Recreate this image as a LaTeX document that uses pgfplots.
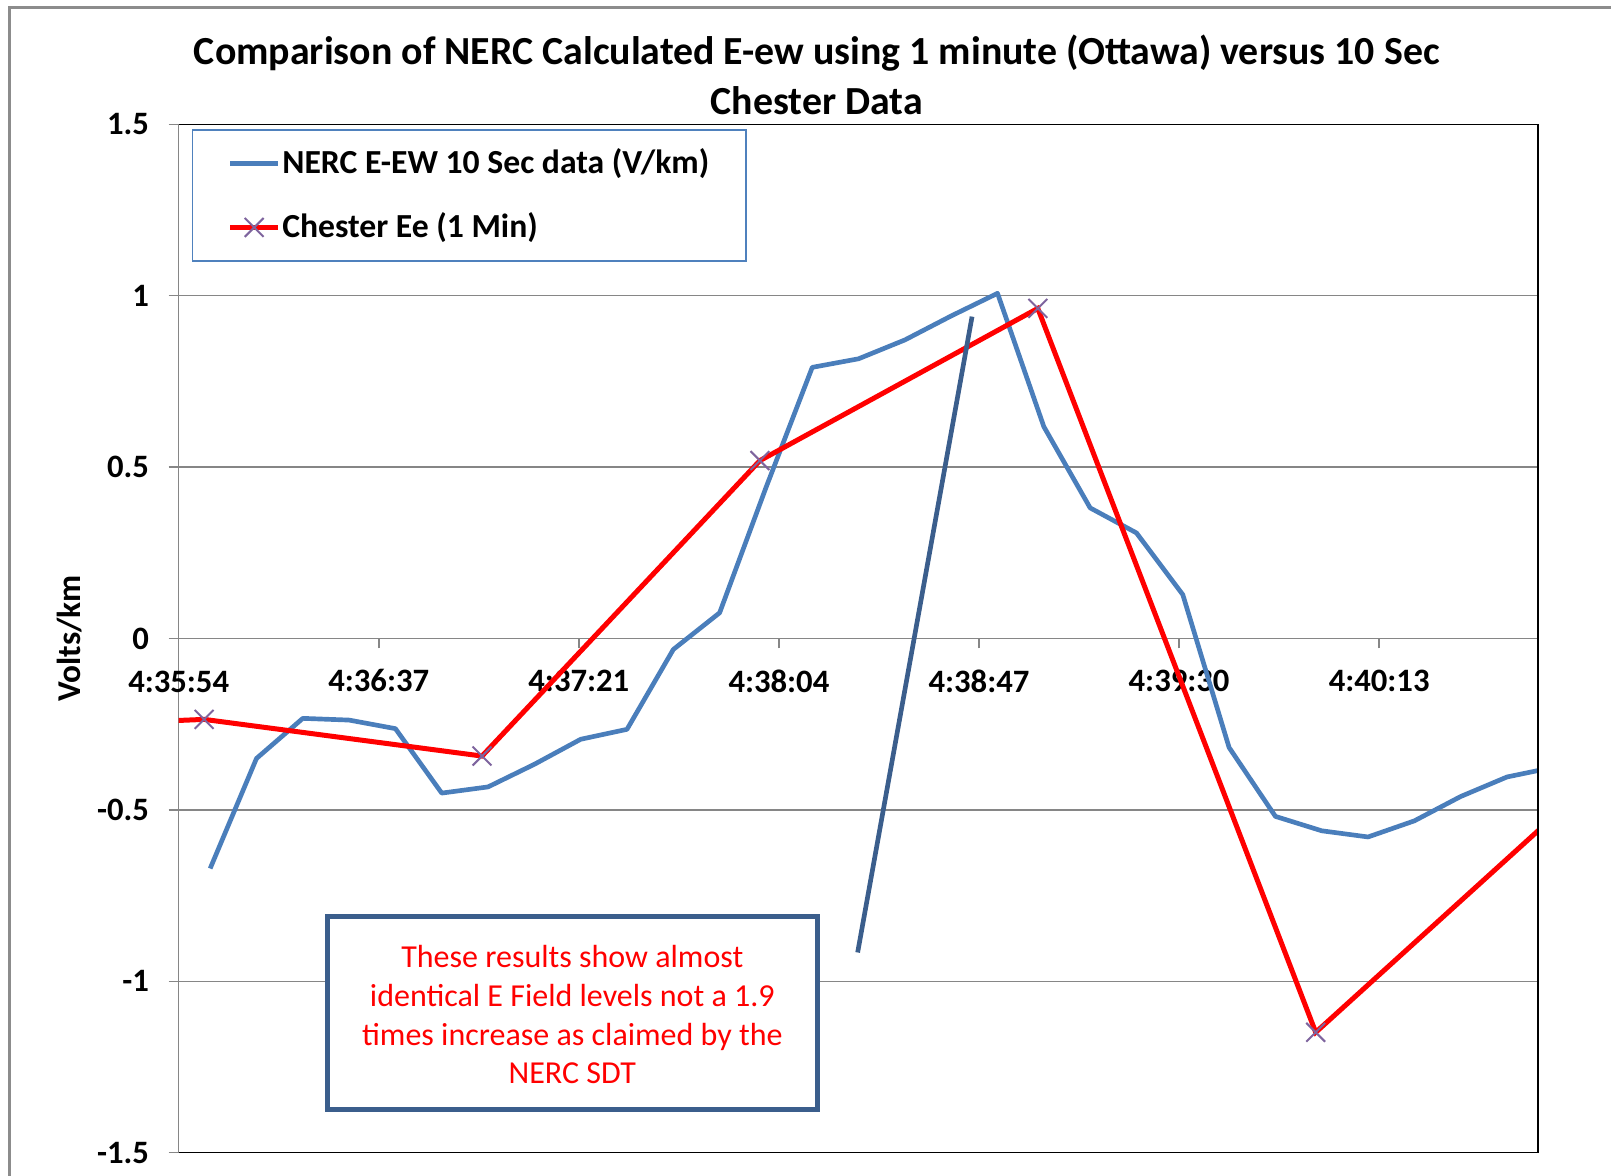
\documentclass[border=0pt]{standalone}
\usepackage{fontspec}
\setmainfont{Carlito}
\usepackage{pgfplots}
\pgfplotsset{compat=1.18}
\usetikzlibrary{calc}
\definecolor{eblue}{HTML}{4A7EBB}
\definecolor{chred}{HTML}{FF0000}
\definecolor{xpurple}{HTML}{7E649E}
\definecolor{boxblue}{HTML}{3B5E8C}
\definecolor{gridgray}{HTML}{868686}
\definecolor{framegray}{HTML}{8C8C8C}
\definecolor{legblue}{HTML}{4F81BD}

\begin{document}
\begin{tikzpicture}
\begin{axis}[
  name=A,
  scale only axis, width=407.8pt, height=308.5pt,
  xmin=0, xmax=293.5, ymin=-1.5, ymax=1.5,
  axis x line*=middle, axis y line*=left,
  axis line style={gridgray, line width=0.45pt},
  tick align=outside, major tick length=3pt,
  tick style={gridgray, line width=0.45pt},
  ymajorgrids, grid style={gridgray, line width=0.45pt},
  xtick={0,43.2,86.4,129.6,172.8,216,259.2},
  xticklabels={4:35:54,4:36:37,4:37:21,4:38:04,4:38:47,4:39:30,4:40:13},
  ytick={-1.5,-1,-0.5,0,0.5,1,1.5},
  yticklabels={-1.5,-1,-0.5,0,0.5,1,1.5},
  ticklabel style={font=\fontsize{9.8}{11}\selectfont\bfseries},
  xticklabel style={yshift=-2.8pt},
  yticklabel style={xshift=-2.4pt},
  legend style={at={(0.0098,0.995)}, anchor=north west, draw=legblue,
    line width=0.4pt, font=\fontsize{10.1}{12}\selectfont\bfseries,
    inner xsep=10.5pt, inner ysep=3.6pt, row sep=6.1pt,
    nodes={inner xsep=0.5pt}},
  legend cell align=left,
  legend image code/.code={\draw[mark repeat=2,mark phase=2,#1]
    plot coordinates {(0pt,0pt) (7.2pt,0pt) (14.4pt,0pt)};},
]
\addplot[eblue, line width=1.4pt, line join=round, no markers] coordinates {
  (6.8,-0.671)(16.8,-0.350)(26.8,-0.233)(36.8,-0.238)(46.8,-0.263)
  (56.8,-0.451)(66.8,-0.433)(76.8,-0.367)(86.8,-0.294)(96.8,-0.265)
  (106.8,-0.032)(116.8,0.075)(126.8,0.440)(136.8,0.791)(146.8,0.816)
  (156.8,0.871)(166.8,0.941)(176.8,1.007)(186.8,0.618)(196.8,0.381)
  (206.8,0.308)(216.8,0.128)(226.8,-0.318)(236.8,-0.519)(246.8,-0.561)
  (256.8,-0.579)(266.8,-0.532)(276.8,-0.461)(286.8,-0.404)(296.8,-0.376)};
\addlegendentry{NERC E-EW 10 Sec data (V/km)}
\addplot[chred, line width=1.5pt, mark=x, mark size=4pt,
  mark options={xpurple, line width=0.6pt, solid}] coordinates {
  (-54.5,-0.270)(5.5,-0.236)(65.5,-0.343)(125.5,0.519)(185.5,0.963)
  (245.5,-1.149)(305.5,-0.414)};
\addlegendentry{Chester Ee (1 Min)}

% annotation
\draw[boxblue, line width=1.4pt] (axis cs:171.3,0.939) -- (axis cs:146.6,-0.916);
\draw[boxblue, line width=1.5pt, fill=white] (axis cs:32.1,-0.811) rectangle (axis cs:137.9,-1.374);
\node[align=center, text=chred, font=\fontsize{9.6}{11.6}\selectfont] at (axis cs:85,-1.098)
  {These results show almost\\identical E Field levels not a 1.9\\times increase as claimed by the\\NERC SDT};
\end{axis}

\draw[black, line width=0.45pt] (A.south west) -- (A.south east) -- (A.north east) -- (A.north west);
% first x tick label (suppressed at the crossing of the axes)
\node[font=\fontsize{9.8}{11}\selectfont\bfseries] at ($(A.west)+(0,-12.9pt)$) {4:35:54};
\node[align=center, font=\fontsize{11.95}{14.8}\selectfont\bfseries]
  at ($(A.north west)!0.4694!(A.north east)+(0,14.8pt)$)
  {Comparison of NERC Calculated E-ew using 1 minute (Ottawa) versus 10 Sec\\Chester Data};
\node[rotate=90, font=\fontsize{10}{11}\selectfont\bfseries] at ($(A.west)+(-32.7pt,0)$) {Volts/km};
\draw[framegray, line width=0.9pt] ($(A.south west)+(-50.6pt,-20pt)$) -- ($(A.north west)+(-50.6pt,34.9pt)$) -- ($(A.north east)+(40pt,34.9pt)$);

\pgfresetboundingbox
\path[use as bounding box] ($(A.south west)+(-53.6pt,-6.7pt)$) rectangle ($(A.north east)+(21.9pt,37.3pt)$);
\end{tikzpicture}
\end{document}
